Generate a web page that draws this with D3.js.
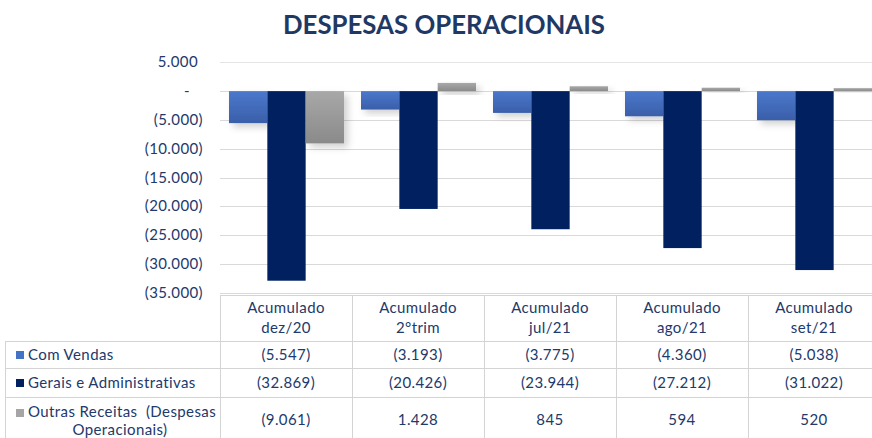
<!DOCTYPE html>
<html><head><meta charset="utf-8">
<script src="https://cdn.jsdelivr.net/npm/d3@7"></script>
<style>
html,body{margin:0;padding:0;background:#fff;}
svg{display:block;font-family:Lato,"Open Sans",sans-serif;}
</style></head>
<body><svg id="c" width="872" height="438"></svg>
<script>
const categories = ["Acumulado\ndez/20","Acumulado\n2°trim","Acumulado\njul/21","Acumulado\nago/21","Acumulado\nset/21"];
const seriesNames = ["Com Vendas","Gerais e Administrativas","Outras Receitas  (Despesas\nOperacionais)"];
const comVendas = [-5547,-3193,-3775,-4360,-5038];
const gerais = [-32869,-20426,-23944,-27212,-31022];
const outras = [-9061,1428,845,594,520];
const yTicks = [5000,0,-5000,-10000,-15000,-20000,-25000,-30000,-35000];
const title = "DESPESAS OPERACIONAIS";

const series = [comVendas, gerais, outras];
const colors = [["#4b78cc","#3a5fa9"],["#002060","#002060"],["#a8a8a8","#8a8a8a"]];
const keyColors = ["#4472c4","#002060","#a5a5a5"];
const textColor = "#22396b";
const fs = 15, ls = 0.4;

const svg = d3.select("#c");
const defs = svg.append("defs");
colors.forEach((c,i)=>{
  const g = defs.append("linearGradient").attr("id","g"+i).attr("x1",0).attr("y1",0).attr("x2",0).attr("y2",1);
  g.append("stop").attr("offset","0%").attr("stop-color",c[0]);
  g.append("stop").attr("offset","100%").attr("stop-color",c[1]);
});
const f = defs.append("filter").attr("id","sh").attr("x","-20%").attr("y","-20%").attr("width","160%").attr("height","160%");
f.append("feDropShadow").attr("dx",4).attr("dy",4).attr("stdDeviation",3.5).attr("flood-color","#000").attr("flood-opacity",0.18);

const loc = d3.formatLocale({decimal:",",thousands:".",grouping:[3],currency:["",""]});
const fmt = loc.format(",.0f");
const acct = v => v===0 ? "-" : v<0 ? "("+fmt(-v)+")" : fmt(v);

const y = d3.scaleLinear().domain([-35000,5000]).range([293,62.3]);
const x0 = d3.scaleBand().domain(categories).range([220,880]);
const x1 = d3.scaleBand().domain(d3.range(series.length)).range([9,124]);

// title
svg.append("text").attr("x",444).attr("y",34).attr("text-anchor","middle")
  .attr("font-size",26).attr("font-weight","bold").attr("fill","#1f3864")
  .attr("textLength",322).attr("lengthAdjust","spacingAndGlyphs").text(title);

// gridlines
svg.append("g").selectAll("line").data(yTicks).join("line")
  .attr("x1",220).attr("x2",872).attr("y1",d=>Math.round(y(d))+0.5).attr("y2",d=>Math.round(y(d))+0.5)
  .attr("stroke",d=>d===5000?"#e4e4e4":"#d9d9d9").attr("stroke-width",1);

// y axis labels
svg.append("g").selectAll("text").data(yTicks).join("text")
  .attr("x",d=>d===0?190:d>0?198:203)
  .attr("y",d=>y(d)+5).attr("text-anchor","end")
  .attr("font-size",fs).attr("letter-spacing",ls).attr("fill",textColor).text(acct);

// bars
const groups = svg.append("g").selectAll("g").data(categories).join("g")
  .attr("transform",d=>`translate(${x0(d)},0)`);
groups.selectAll("rect").data((d,ci)=>series.map((s,si)=>({si,v:s[ci]}))).join("rect")
  .attr("x",d=>x1(d.si)).attr("width",x1.bandwidth())
  .attr("y",d=>y(Math.max(0,d.v))).attr("height",d=>Math.abs(y(d.v)-y(0)))
  .attr("fill",d=>`url(#g${d.si})`)
  .attr("filter",d=>d.si===1?null:"url(#sh)");

// data table
const tb = svg.append("g").attr("font-size",fs).attr("letter-spacing",ls).attr("fill",textColor);
const border = "#d4d4d4";
tb.append("line").attr("x1",220).attr("x2",872).attr("y1",295.5).attr("y2",295.5).attr("stroke",border);
[341,368,397].forEach(yy=>tb.append("line").attr("x1",5).attr("x2",872).attr("y1",yy+0.5).attr("y2",yy+0.5).attr("stroke",border));
tb.append("line").attr("x1",5.5).attr("x2",5.5).attr("y1",341).attr("y2",438).attr("stroke",border);
categories.forEach(c=>{
  const xx = Math.round(x0(c))+0.5;
  tb.append("line").attr("x1",xx).attr("x2",xx).attr("y1",295).attr("y2",438).attr("stroke",border);
});
// header
categories.forEach(c=>{
  const cx = x0(c)+x0.bandwidth()/2;
  c.split("\n").forEach((t,i)=>{
    tb.append("text").attr("x",cx).attr("y",313+i*20).attr("text-anchor","middle").text(t);
  });
});
// rows
const rowCenters = [355,383,420];
series.forEach((s,si)=>{
  tb.append("rect").attr("x",16).attr("y",rowCenters[si]-4-(si===2?7:0)).attr("width",8).attr("height",8).attr("fill",keyColors[si]);
  const lines = seriesNames[si].split("\n");
  if(lines.length===1){
    tb.append("text").attr("x",28).attr("y",rowCenters[si]+5).text(lines[0]);
  } else {
    tb.append("text").attr("x",28).attr("y",rowCenters[si]-3).attr("xml:space","preserve").text(lines[0]);
    tb.append("text").attr("x",120).attr("y",rowCenters[si]+15).attr("text-anchor","middle").text(lines[1]);
  }
  categories.forEach((c,ci)=>{
    tb.append("text").attr("x",x0(c)+x0.bandwidth()/2).attr("y",rowCenters[si]+5).attr("text-anchor","middle").text(acct(s[ci]));
  });
});
</script></body></html>
